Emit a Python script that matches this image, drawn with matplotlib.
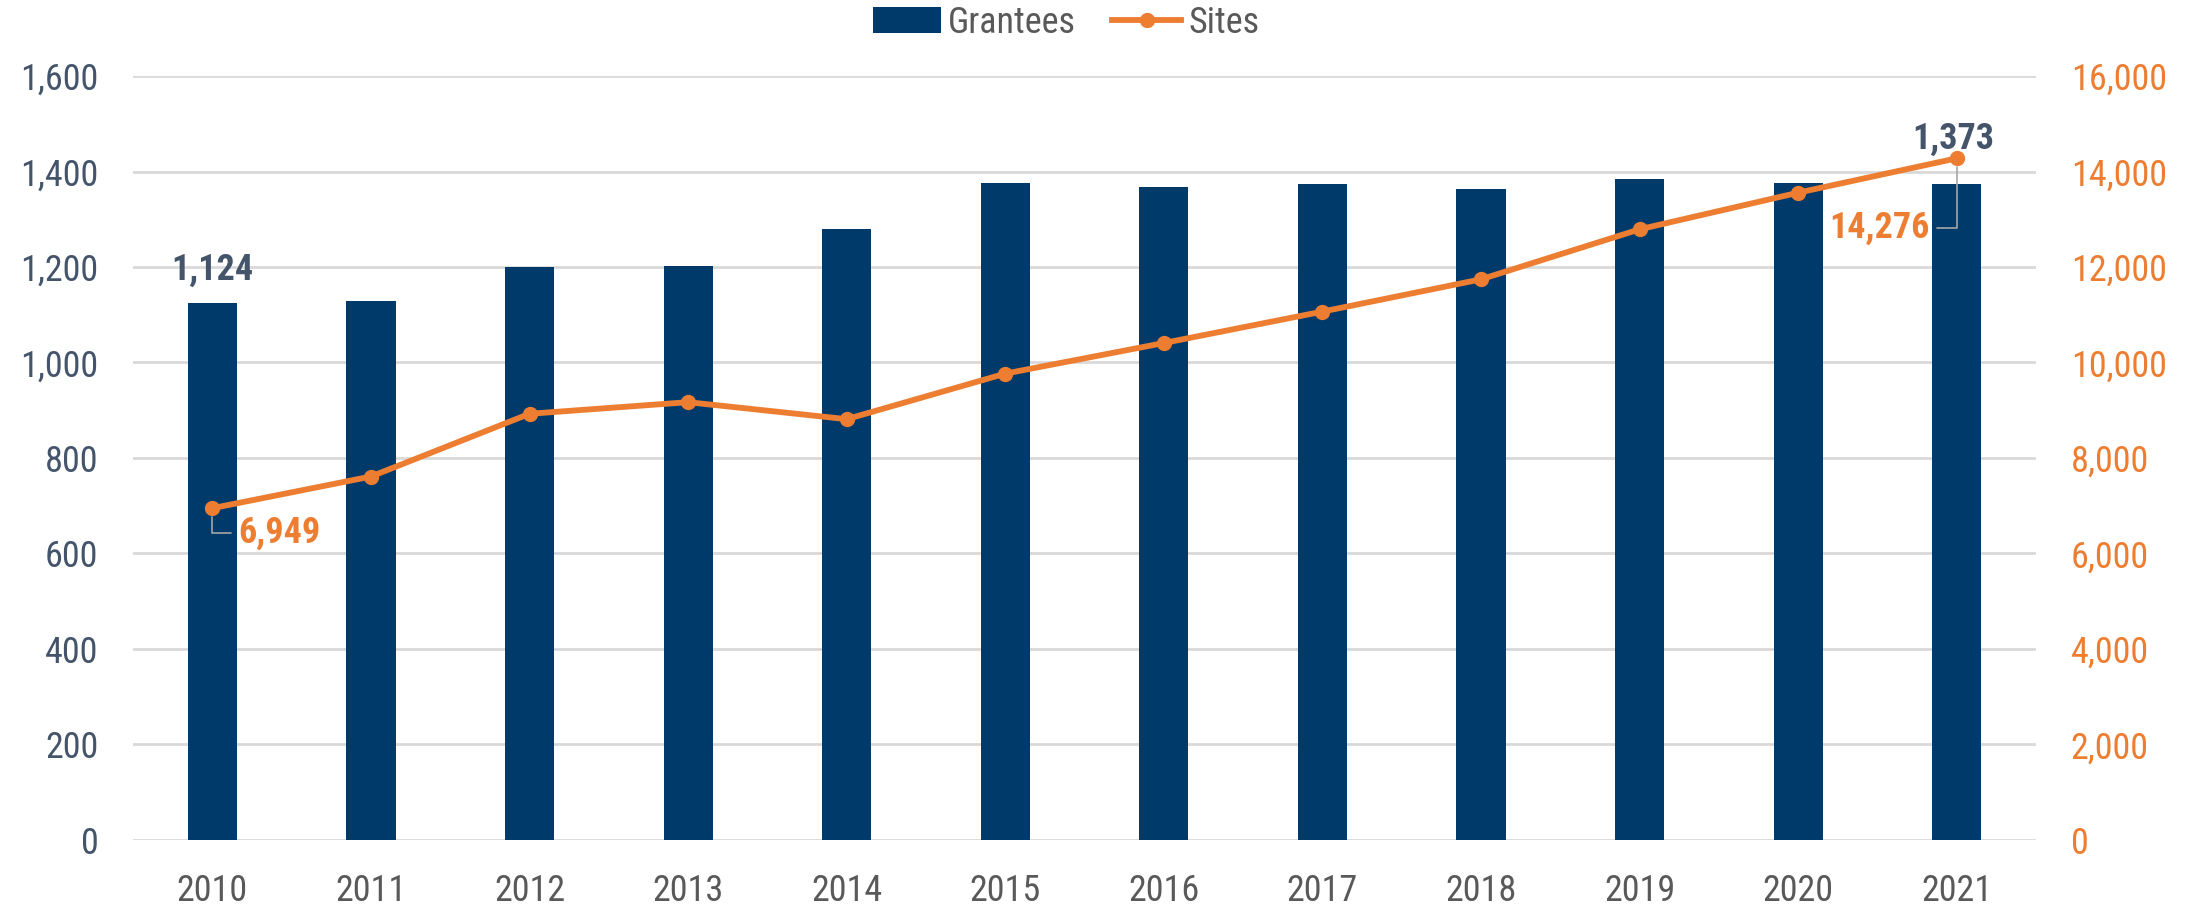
import matplotlib
matplotlib.use("Agg")
import matplotlib.pyplot as plt
from matplotlib import font_manager
from matplotlib.ticker import FuncFormatter

years = ["2010", "2011", "2012", "2013", "2014", "2015", "2016", "2017", "2018", "2019", "2020", "2021"]
grantees = [1124, 1129, 1199, 1202, 1279, 1375, 1367, 1373, 1363, 1385, 1375, 1373]
sites = [6949, 7612, 8926, 9169, 8813, 9767, 10408, 11066, 11742, 12789, 13556, 14276]

names = {f.name for f in font_manager.fontManager.ttflist}
fam = None
for cand in ["Liberation Sans Narrow", "Roboto Condensed", "Open Sans Condensed", "Roboto", "Lato"]:
    if cand in names:
        fam = cand
        break
plt.rcParams['font.family'] = [fam, 'DejaVu Sans'] if fam else ['DejaVu Sans']

NAVY = "#003A6B"
ORANGE = "#ED7D31"
SLATE = "#44546A"
GRAY = "#595959"
FS = 26

fig = plt.figure(figsize=(22.07, 9.07), dpi=100)
ax1 = fig.add_axes([0.0603, 0.0739, 0.8622, 0.8423])
ax2 = ax1.twinx()

x = list(range(len(years)))
ax1.bar(x, grantees, width=0.31, color=NAVY, zorder=2, label="Grantees")
ax2.plot(x, sites, color=ORANGE, lw=4.2, marker='o', ms=10, zorder=3, label="Sites")

ax1.set_xlim(-0.5, len(years) - 0.5)
ax1.set_ylim(0, 1600)
ax2.set_ylim(0, 16000)
ax1.set_yticks(range(0, 1601, 200))
ax2.set_yticks(range(0, 16001, 2000))
ax1.yaxis.set_major_formatter(FuncFormatter(lambda v, p: f"{int(v):,}"))
ax2.yaxis.set_major_formatter(FuncFormatter(lambda v, p: f"{int(v):,}"))
ax1.set_xticks(x)
ax1.set_xticklabels(years)

ax1.grid(axis='y', color='#D9D9D9', lw=2, zorder=0)
ax1.set_axisbelow(True)
for ax in (ax1, ax2):
    for s in ax.spines.values():
        s.set_visible(False)
ax1.tick_params(axis='y', length=0, pad=25, labelsize=FS, labelcolor=SLATE)
ax1.tick_params(axis='x', length=0, pad=24, labelsize=FS, labelcolor=GRAY)
ax2.tick_params(axis='y', length=0, pad=25, labelsize=FS, labelcolor=ORANGE)

# data labels
ax1.annotate(f"{grantees[0]:,}", (x[0], grantees[0]), xytext=(0, 33), textcoords='offset pixels',
             ha='center', va='center', fontsize=FS, fontweight='bold', color=SLATE)
ax1.annotate(f"{grantees[-1]:,}", (x[-1], grantees[-1]), xytext=(-3, 46), textcoords='offset pixels',
             ha='center', va='center', fontsize=FS, fontweight='bold', color=SLATE)
ax2.annotate(f"{sites[0]:,}", (x[0], sites[0]), xytext=(26, -25), textcoords='offset pixels',
             ha='left', va='center', fontsize=FS, fontweight='bold', color=ORANGE,
             arrowprops=dict(arrowstyle='-', color='#A6A6A6', lw=1.2, relpos=(0, 0.5),
                             connectionstyle='angle,angleA=0,angleB=90,rad=0', shrinkA=3, shrinkB=6))
ax2.annotate(f"{sites[-1]:,}", (x[-1], sites[-1]), xytext=(-27, -70), textcoords='offset pixels',
             ha='right', va='center', fontsize=FS, fontweight='bold', color=ORANGE,
             arrowprops=dict(arrowstyle='-', color='#A6A6A6', lw=1.2, relpos=(1, 0.5),
                             connectionstyle='angle,angleA=0,angleB=90,rad=0', shrinkA=3, shrinkB=6))

h1, l1 = ax1.get_legend_handles_labels()
h2, l2 = ax2.get_legend_handles_labels()
leg = fig.legend(h1 + h2, l1 + l2, loc='center', bbox_to_anchor=(0.483, 0.975), ncol=2, frameon=False,
                 fontsize=FS, handlelength=1.9, handleheight=0.75, handletextpad=0.2, columnspacing=1.0)
for t in leg.get_texts():
    t.set_color(GRAY)

fig.savefig("out.png", dpi=100)
